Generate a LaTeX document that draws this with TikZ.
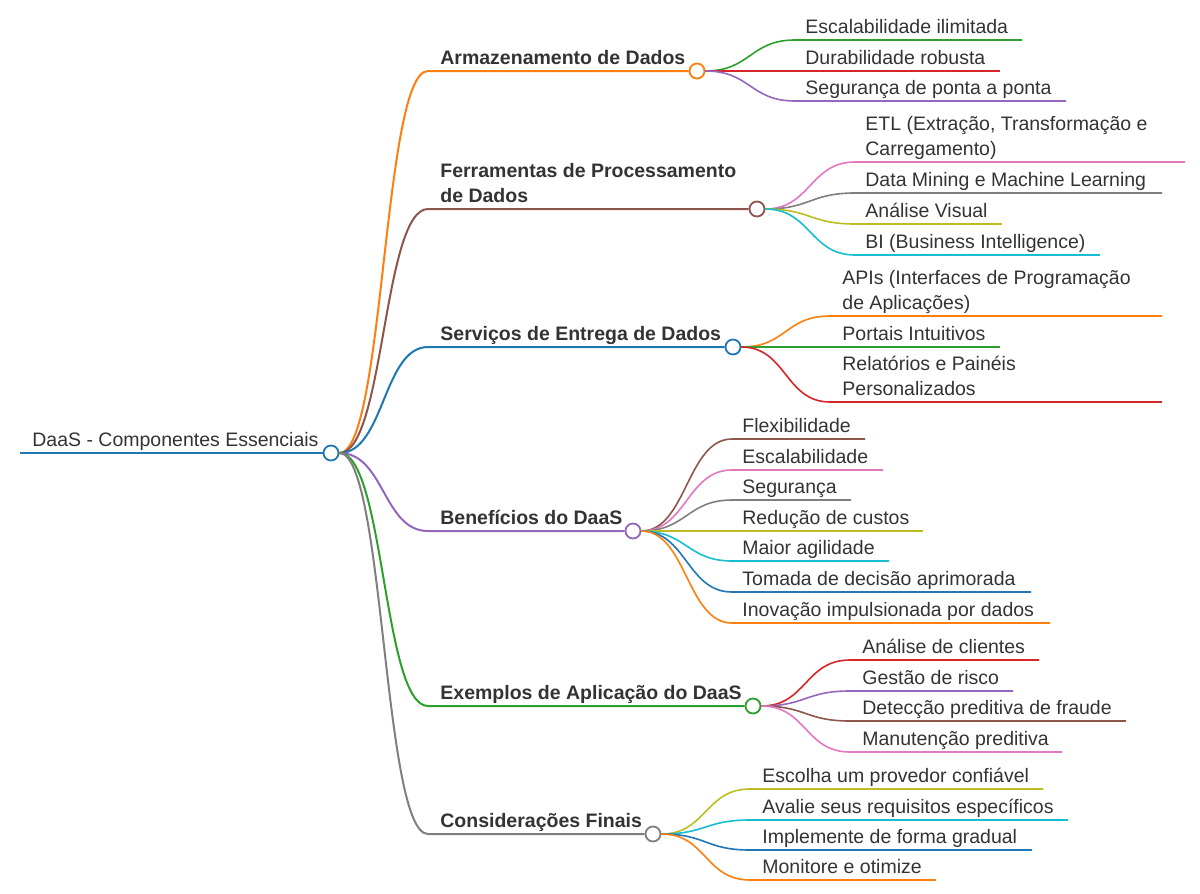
\documentclass[tikz,border=0pt]{standalone}
\usepackage{fontspec}
\setmainfont{Liberation Sans}
\definecolor{ink}{HTML}{333333}
\definecolor{cblue}{HTML}{1F77B4}
\definecolor{corange}{HTML}{FF7F0E}
\definecolor{cgreen}{HTML}{2CA02C}
\definecolor{cred}{HTML}{D62728}
\definecolor{cpurple}{HTML}{9467BD}
\definecolor{cbrown}{HTML}{8C564B}
\definecolor{cpink}{HTML}{E377C2}
\definecolor{cgray}{HTML}{7F7F7F}
\definecolor{colive}{HTML}{BCBD22}
\definecolor{ccyan}{HTML}{17BECF}
\begin{document}
\begin{tikzpicture}[x=0.5pt,y=-0.5pt,
    knot/.style={circle,fill=white,line width=0.9pt,minimum size=7.5pt,inner sep=0pt},
    twig/.style={to path={.. controls +(45,0) and +(-45,0) .. (\tikztotarget)}},
    trunk/.style={line width=1.3pt},
    bough/.style={line width=1pt},
    leafline/.style={line width=0.8pt},
    anytext/.style={text=ink,font=\fontsize{9.75}{12.5}\selectfont,anchor=south west,
      align=left,inner xsep=0pt,inner ysep=3pt,text depth=0pt},
    roottext/.style={anytext},
    headtext/.style={anytext,font=\fontsize{9.75}{12.5}\selectfont\bfseries},
    leaftext/.style={anytext}]
  \useasboundingbox (0,0) rectangle (1200,894);

  % root
  \coordinate (rootL) at (20,453);
  \node[knot,draw=cblue] (root) at (331,453) {};
  \draw[trunk,cblue] (rootL) -- (root.west);
  \node[roottext] (rootT) at (32,453) {DaaS - Componentes Essenciais};

  % main branches
  \foreach \b/\y/\x/\c/\t in {
      b1/71/697/corange/{Armazenamento de Dados},
      b2/209/757/cbrown/{Ferramentas de Processamento\\de Dados},
      b3/347/733/cblue/{Serviços de Entrega de Dados},
      b4/531/633/cpurple/{Benefícios do DaaS},
      b5/706/753/cgreen/{Exemplos de Aplicação do DaaS},
      b6/834/653/cgray/{Considerações Finais}}{
    \coordinate (\b s) at (428,\y);
    \node[knot,draw=\c] (\b) at (\x,\y) {};
    \draw[bough,\c] (root.east) to[twig] (\b s) -- (\b.west);
    \node[headtext] (\b t) at (440,\y) {\t};
  }

  % Armazenamento
  \foreach \n/\y/\e/\c/\t in {
      a1/40/1022/cgreen/{Escalabilidade ilimitada},
      a2/71/1000/cred/{Durabilidade robusta},
      a3/101/1066/cpurple/{Segurança de ponta a ponta}}{
    \coordinate (\n s) at (795,\y);
    \coordinate (\n e) at (\e,\y);
    \draw[leafline,\c] (b1.east) to[twig] (\n s) -- (\n e);
    \node[leaftext] (\n) at (805,\y) {\t};
  }

  % Ferramentas
  \foreach \n/\y/\e/\c/\t in {
      f1/162/1185/cpink/{ETL (Extração, Transformação e\\Carregamento)},
      f2/193/1162/cgray/{Data Mining e Machine Learning},
      f3/224/1002/colive/{Análise Visual},
      f4/255/1100/ccyan/{BI (Business Intelligence)}}{
    \coordinate (\n s) at (855,\y);
    \coordinate (\n e) at (\e,\y);
    \draw[leafline,\c] (b2.east) to[twig] (\n s) -- (\n e);
    \node[leaftext] (\n) at (865,\y) {\t};
  }

  % Servicos
  \foreach \n/\y/\e/\c/\t in {
      s1/316/1162/corange/{APIs (Interfaces de Programação\\de Aplicações)},
      s2/347/1000/cgreen/{Portais Intuitivos},
      s3/402/1162/cred/{Relatórios e Painéis\\Personalizados}}{
    \coordinate (\n s) at (830,\y);
    \coordinate (\n e) at (\e,\y);
    \draw[leafline,\c] (b3.east) to[twig] (\n s) -- (\n e);
    \node[leaftext] (\n) at (842,\y) {\t};
  }

  % Beneficios
  \foreach \n/\y/\e/\c/\t in {
      p1/439/865/cbrown/{Flexibilidade},
      p2/470/883/cpink/{Escalabilidade},
      p3/500/851/cgray/{Segurança},
      p4/531/923/colive/{Redução de custos},
      p5/561/889/ccyan/{Maior agilidade},
      p6/592/1031/cblue/{Tomada de decisão aprimorada},
      p7/623/1050/corange/{Inovação impulsionada por dados}}{
    \coordinate (\n s) at (732,\y);
    \coordinate (\n e) at (\e,\y);
    \draw[leafline,\c] (b4.east) to[twig] (\n s) -- (\n e);
    \node[leaftext] (\n) at (742,\y) {\t};
  }

  % Exemplos
  \foreach \n/\y/\e/\c/\t in {
      e1/660/1039/cred/{Análise de clientes},
      e2/691/1013/cpurple/{Gestão de risco},
      e3/721/1126/cbrown/{Detecção preditiva de fraude},
      e4/752/1062/cpink/{Manutenção preditiva}}{
    \coordinate (\n s) at (850,\y);
    \coordinate (\n e) at (\e,\y);
    \draw[leafline,\c] (b5.east) to[twig] (\n s) -- (\n e);
    \node[leaftext] (\n) at (862,\y) {\t};
  }

  % Consideracoes
  \foreach \n/\y/\e/\c/\t in {
      c1/789/1043/colive/{Escolha um provedor confiável},
      c2/820/1068/ccyan/{Avalie seus requisitos específicos},
      c3/850/1032/cblue/{Implemente de forma gradual},
      c4/880/936/corange/{Monitore e otimize}}{
    \coordinate (\n s) at (750,\y);
    \coordinate (\n e) at (\e,\y);
    \draw[leafline,\c] (b6.east) to[twig] (\n s) -- (\n e);
    \node[leaftext] (\n) at (762,\y) {\t};
  }
\end{tikzpicture}
\end{document}
